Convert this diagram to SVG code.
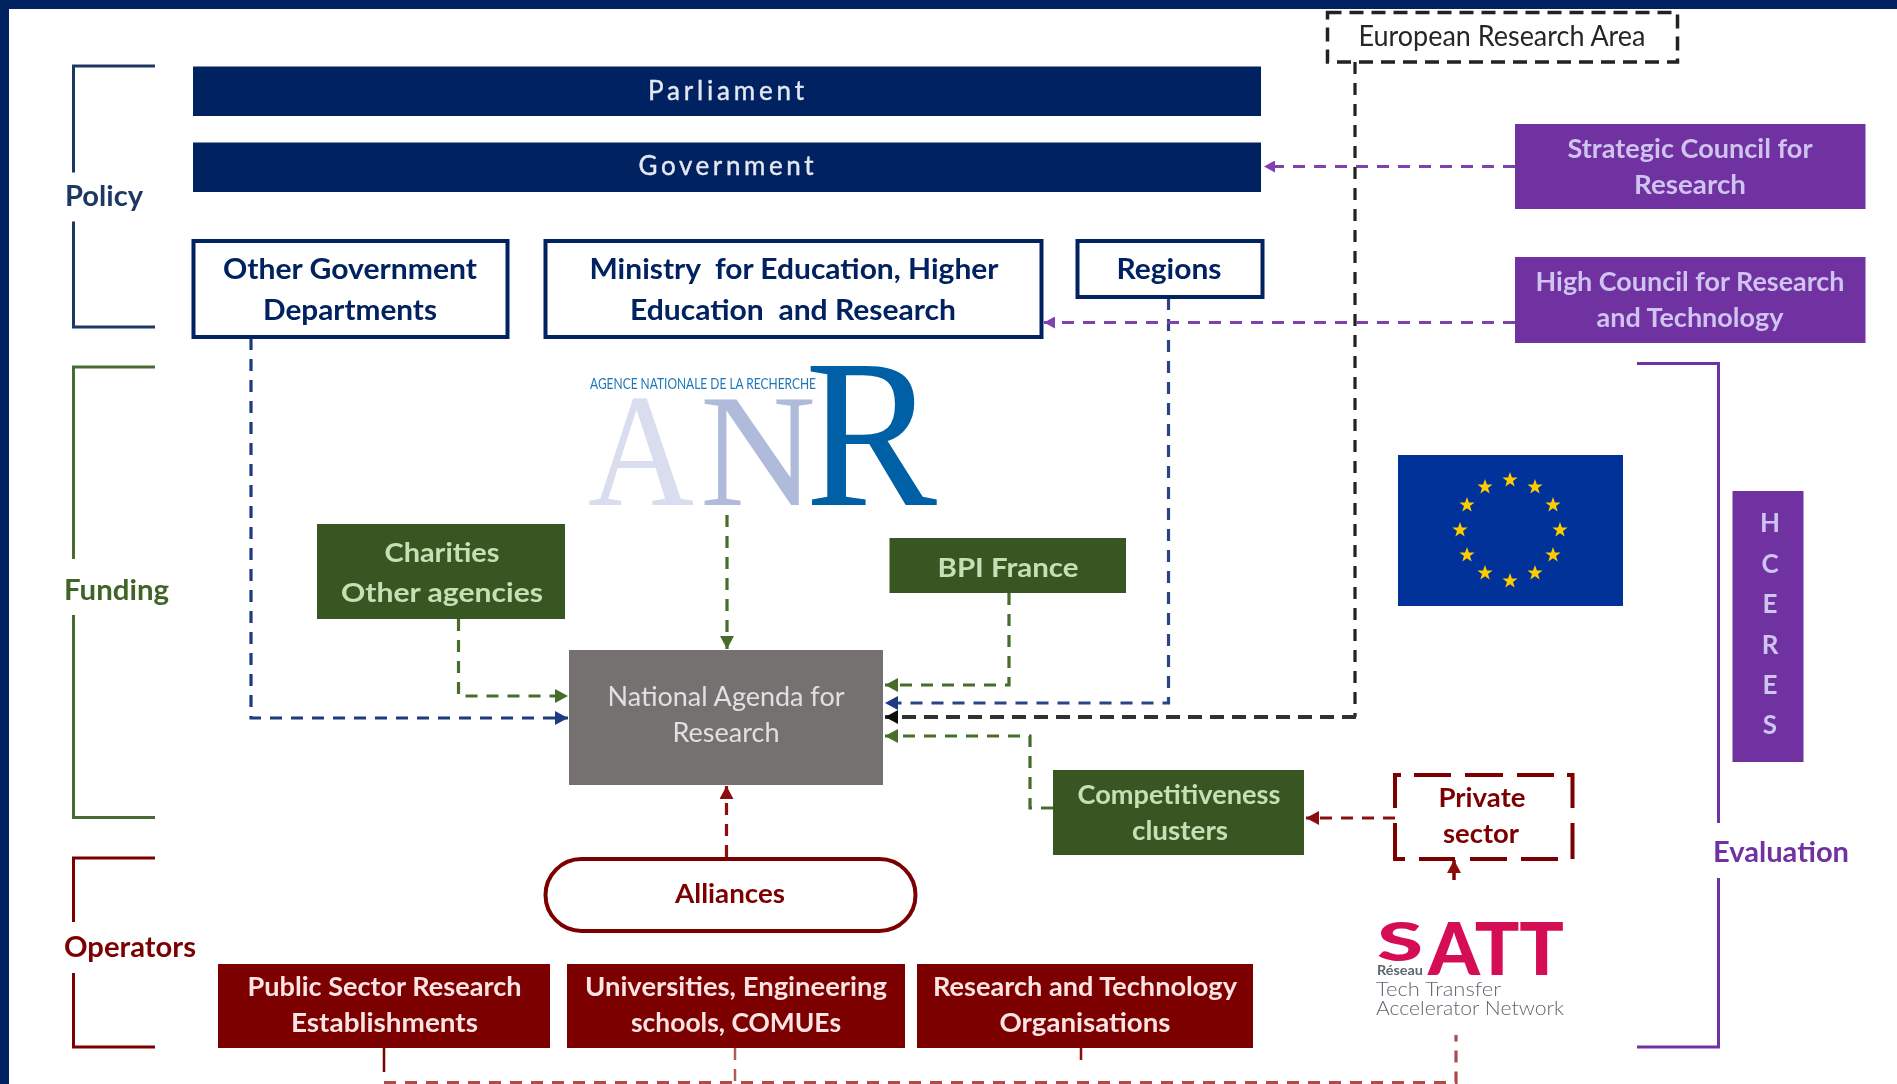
<svg xmlns="http://www.w3.org/2000/svg" width="1897" height="1084" viewBox="0 0 1897 1084">
<style>
text{font-family:Lato,"Liberation Sans",sans-serif;text-anchor:middle;font-weight:700;font-size:26px}
.navy{fill:#002060}.green{fill:#385723}.red{fill:#7b0000}.purple{fill:#7030a0}.grey{fill:#767171}
.tnavy{fill:#002060;font-size:28px}.tgreen{fill:#c5e0b4}.twhite{fill:#fce4e4}.tpurple{fill:#cfc3f0}
.tred{fill:#7b0000}.tgrey{fill:#e0e0e0;font-weight:400}.tbar{fill:#e4e8f2;font-weight:400;stroke:#e4e8f2;stroke-width:.4px}
.box{fill:#fff;stroke:#002060;stroke-width:4}
.br{fill:none;stroke-width:3}
.cn{fill:none;stroke-width:3.2;stroke-dasharray:12 9}
.thick{stroke-width:4;stroke-dasharray:14 8}
.thin{stroke-width:2.5}
.serif{font-family:"Liberation Serif",serif;font-weight:400;text-anchor:start}
.lab{font-size:29px}
.logo{text-anchor:start;fill:#5c6670;font-weight:300}
</style>
<defs>
<filter id="soft" x="0" y="0" width="100%" height="100%"><feGaussianBlur stdDeviation="0.45"/></filter>
<marker id="ag" markerUnits="userSpaceOnUse" markerWidth="14" markerHeight="14" refX="13" refY="7" orient="auto"><path d="M0 0L13 7L0 14z" fill="#466d2c"/></marker>
<marker id="ab" markerUnits="userSpaceOnUse" markerWidth="14" markerHeight="14" refX="13" refY="7" orient="auto"><path d="M0 0L13 7L0 14z" fill="#1f3a80"/></marker>
<marker id="ak" markerUnits="userSpaceOnUse" markerWidth="14" markerHeight="14" refX="13" refY="7" orient="auto"><path d="M0 0L13 7L0 14z" fill="#111"/></marker>
<marker id="ap" markerUnits="userSpaceOnUse" markerWidth="12" markerHeight="12" refX="11" refY="6" orient="auto"><path d="M0 0L11 6L0 12z" fill="#7f3fb0"/></marker>
<marker id="ar" markerUnits="userSpaceOnUse" markerWidth="14" markerHeight="14" refX="13" refY="7" orient="auto"><path d="M0 0L13 7L0 14z" fill="#8b0f0f"/></marker>
<polygon id="star" points="0,-8 1.9,-2.5 7.6,-2.5 3,1 4.7,6.5 0,3.2 -4.7,6.5 -3,1 -7.6,-2.500 -1.9,-2.500" fill="#ffcc00"/>
</defs>
<rect width="1897" height="1084" fill="#fff"/>
<g filter="url(#soft)">
<path id="frame" d="M0 0H1897V9H9V1084H0z" fill="#002060"/>

<g id="connectors">
<path class="cn" stroke="#1f3a80" d="M251 338V718H568" marker-end="url(#ab)"/>
<path class="cn" stroke="#466d2c" d="M458.500 619V696H568" marker-end="url(#ag)"/>
<path class="cn" stroke="#466d2c" d="M727 515V649" marker-end="url(#ag)"/>
<path class="cn" stroke="#466d2c" d="M1009 593V685H885" marker-end="url(#ag)"/>
<path class="cn" stroke="#2a4585" d="M1168.500 298V703H885" marker-end="url(#ab)"/>
<path class="cn" stroke="#222" d="M1355 62V717"/>
<path class="cn thick" stroke="#333" d="M1356 717H885" marker-end="url(#ak)"/>
<path class="cn" stroke="#466d2c" d="M1053 808H1030V736H885" marker-end="url(#ag)"/>
<path class="cn" stroke="#7f3fb0" d="M1515 166.500H1264" marker-end="url(#ap)"/>
<path class="cn" stroke="#7f3fb0" d="M1515 322.500H1044" marker-end="url(#ap)"/>
<path class="cn" stroke="#8b0f0f" d="M1395 818H1306" marker-end="url(#ar)"/>
<path fill="none" stroke="#7b0000" stroke-width="3.500" d="M1454 880V860" marker-end="url(#ar)"/>
<path class="cn" stroke="#8b0f0f" d="M726.500 857V786" marker-end="url(#ar)"/>
<path fill="none" stroke="#7b0000" stroke-width="2.500" d="M384 1048V1072"/>
<path class="cn thin" stroke="#b05a5a" d="M735 1048V1084"/>
<path class="cn thin" stroke="#8b0f0f" d="M1081 1048V1066"/>
<path class="cn" stroke="#b04848" d="M384 1082.500H1456V1035"/>
</g>

<g id="bracket-policy">
<path class="br" stroke="#1f3864" d="M155 66H73.500V172.500M73.500 221.500V327H155"/>
<text x="104" y="206" class="lab" fill="#1f3864" textLength="78" lengthAdjust="spacingAndGlyphs">Policy</text>
</g>
<g id="bracket-funding">
<path class="br" stroke="#4a6b30" d="M155 367H73.500V559M73.500 615V817.500H155"/>
<text x="116.500" y="600" class="lab" fill="#3f6428" textLength="105" lengthAdjust="spacingAndGlyphs">Funding</text>
</g>
<g id="bracket-operators">
<path class="br" stroke="#7b0000" d="M155 858H73.500V922M73.500 973V1047H155"/>
<text x="130" y="957" class="lab" fill="#7b0000" textLength="132" lengthAdjust="spacingAndGlyphs">Operators</text>
</g>
<g id="bracket-evaluation">
<path class="br" stroke="#7030a0" d="M1637 363.500H1718.500V823M1718.500 878V1047H1637"/>
<text x="1781" y="862" class="lab" fill="#7030a0" textLength="136" lengthAdjust="spacingAndGlyphs">Evaluation</text>
</g>

<g id="parliament"><rect class="navy" x="193" y="66.500" width="1068" height="49.500"/>
<text class="tbar" x="726" y="99.500" textLength="156">Parliament</text></g>
<g id="government"><rect class="navy" x="193" y="142.500" width="1068" height="49.500"/>
<text class="tbar" x="726" y="175" textLength="175">Government</text></g>

<g id="other-departments"><rect class="box" x="193.500" y="241" width="314" height="96"/>
<text class="tnavy" x="350" y="279" textLength="254" lengthAdjust="spacingAndGlyphs">Other Government</text>
<text class="tnavy" x="350" y="320" textLength="174" lengthAdjust="spacingAndGlyphs">Departments</text></g>
<g id="ministry"><rect class="box" x="545.500" y="241" width="496" height="96"/>
<text class="tnavy" x="794" y="279" textLength="409" lengthAdjust="spacingAndGlyphs" xml:space="preserve">Ministry  for Education, Higher</text>
<text class="tnavy" x="793" y="320" textLength="326" lengthAdjust="spacingAndGlyphs" xml:space="preserve">Education  and Research</text></g>
<g id="regions"><rect class="box" x="1077.500" y="241" width="185" height="56"/>
<text class="tnavy" x="1169" y="279" textLength="105" lengthAdjust="spacingAndGlyphs">Regions</text></g>

<g id="era"><rect x="1327.500" y="12.500" width="350" height="49.500" fill="#fff" stroke="#222" stroke-width="3.500" stroke-dasharray="14 8"/>
<text x="1502" y="46" fill="#262626" style="font-weight:400;font-size:28px" textLength="287" lengthAdjust="spacingAndGlyphs">European Research Area</text></g>

<g id="strategic-council"><rect class="purple" x="1515" y="124" width="350.500" height="85"/>
<text class="tpurple" x="1690" y="158" textLength="245" lengthAdjust="spacingAndGlyphs">Strategic Council for</text>
<text class="tpurple" x="1690" y="194" textLength="112" lengthAdjust="spacingAndGlyphs">Research</text></g>
<g id="high-council"><rect class="purple" x="1515" y="257" width="350.500" height="86"/>
<text class="tpurple" x="1690" y="291" textLength="309" lengthAdjust="spacingAndGlyphs">High Council for Research</text>
<text class="tpurple" x="1690" y="327" textLength="187" lengthAdjust="spacingAndGlyphs">and Technology</text></g>

<g id="anr">
<text class="serif" x="588" y="505" fill="#d9ddee" textLength="106" lengthAdjust="spacingAndGlyphs" style="font-size:162px">A</text>
<text class="serif" x="700" y="505" fill="#b0bbdb" textLength="116" lengthAdjust="spacingAndGlyphs" style="font-size:162px">N</text>
<text class="serif" x="805" y="505" fill="#0060a5" textLength="132" lengthAdjust="spacingAndGlyphs" style="font-size:212px">R</text>
<text x="590" y="389" fill="#1f78b8" textLength="226" lengthAdjust="spacingAndGlyphs" style="font-size:15px;font-weight:400;text-anchor:start">AGENCE NATIONALE DE LA RECHERCHE</text>
</g>

<g id="charities"><rect class="green" x="317" y="524" width="248" height="95"/>
<text class="tgreen" x="442" y="562" textLength="115" lengthAdjust="spacingAndGlyphs">Charities</text>
<text class="tgreen" x="442" y="602" textLength="202" lengthAdjust="spacingAndGlyphs">Other agencies</text></g>
<g id="bpi-france"><rect class="green" x="889.500" y="538" width="236.500" height="55"/>
<text class="tgreen" x="1008" y="577" textLength="141" lengthAdjust="spacingAndGlyphs">BPI France</text></g>
<g id="national-agenda"><rect class="grey" x="569" y="650" width="314" height="135"/>
<text class="tgrey" x="726" y="706" textLength="237" lengthAdjust="spacingAndGlyphs">National Agenda for</text>
<text class="tgrey" x="726" y="742" textLength="107" lengthAdjust="spacingAndGlyphs">Research</text></g>
<g id="competitiveness"><rect class="green" x="1053" y="770" width="251" height="85"/>
<text class="tgreen" x="1179" y="804" textLength="203" lengthAdjust="spacingAndGlyphs">Competitiveness</text>
<text class="tgreen" x="1180" y="840" textLength="96" lengthAdjust="spacingAndGlyphs">clusters</text></g>
<g id="private-sector"><path fill="none" stroke="#7b0000" stroke-width="4" d="M1401 775H1395V808M1395 823V859H1405M1419 859H1455M1470 859H1507M1521 859H1558M1572.500 859V823M1572.500 808V775H1567M1554 775H1517M1503 775H1465M1451 775H1414"/>
<text class="tred" x="1482" y="807" textLength="87" lengthAdjust="spacingAndGlyphs">Private</text>
<text class="tred" x="1481" y="843" textLength="76" lengthAdjust="spacingAndGlyphs">sector</text></g>
<g id="alliances"><rect x="545.500" y="859" width="370" height="72" rx="36" fill="#fff" stroke="#7b0000" stroke-width="4"/>
<text class="tred" x="730" y="903" textLength="110" lengthAdjust="spacingAndGlyphs">Alliances</text></g>

<g id="public-sector"><rect class="red" x="218" y="964" width="332" height="84"/>
<text class="twhite" x="384.500" y="996" textLength="274" lengthAdjust="spacingAndGlyphs">Public Sector Research</text>
<text class="twhite" x="384.500" y="1032" textLength="187" lengthAdjust="spacingAndGlyphs">Establishments</text></g>
<g id="universities"><rect class="red" x="567" y="964" width="338" height="84"/>
<text class="twhite" x="736" y="996" textLength="302" lengthAdjust="spacingAndGlyphs">Universities, Engineering</text>
<text class="twhite" x="736" y="1032" textLength="210" lengthAdjust="spacingAndGlyphs">schools, COMUEs</text></g>
<g id="rto"><rect class="red" x="917" y="964" width="336" height="84"/>
<text class="twhite" x="1085" y="996" textLength="304" lengthAdjust="spacingAndGlyphs">Research and Technology</text>
<text class="twhite" x="1085" y="1032" textLength="171" lengthAdjust="spacingAndGlyphs">Organisations</text></g>

<g id="hceres"><rect class="purple" x="1732.500" y="491" width="71" height="271"/>
<text class="tpurple" x="1770" y="532">H</text>
<text class="tpurple" x="1770" y="573">C</text>
<text class="tpurple" x="1770" y="613">E</text>
<text class="tpurple" x="1770" y="654">R</text>
<text class="tpurple" x="1770" y="694">E</text>
<text class="tpurple" x="1770" y="734">S</text></g>

<g id="eu-flag"><rect x="1398" y="455" width="225" height="151" fill="#003399"/>
<use href="#star" x="1510" y="480"/><use href="#star" x="1535" y="487"/><use href="#star" x="1553" y="505"/><use href="#star" x="1560" y="530"/><use href="#star" x="1553" y="555"/><use href="#star" x="1535" y="573"/><use href="#star" x="1510" y="581"/><use href="#star" x="1485" y="573"/><use href="#star" x="1467" y="555"/><use href="#star" x="1460" y="530"/><use href="#star" x="1467" y="505"/><use href="#star" x="1485" y="487"/></g>

<g id="satt">
<text fill="#d50f55" style="font-weight:900;text-anchor:start"><tspan x="1377" y="961" textLength="46" lengthAdjust="spacingAndGlyphs" style="font-size:53px">S</tspan><tspan x="1428" y="975" textLength="136" lengthAdjust="spacingAndGlyphs" style="font-size:72px">ATT</tspan></text>
<text class="logo" x="1377" y="975" textLength="46" lengthAdjust="spacingAndGlyphs" style="font-size:13px;font-weight:700">Réseau</text>
<text class="logo" x="1376" y="996" textLength="125" lengthAdjust="spacingAndGlyphs" style="font-size:20px">Tech Transfer</text>
<text class="logo" x="1376" y="1015" textLength="188" lengthAdjust="spacingAndGlyphs" style="font-size:20px">Accelerator Network</text>
</g>
</g>
</svg>
